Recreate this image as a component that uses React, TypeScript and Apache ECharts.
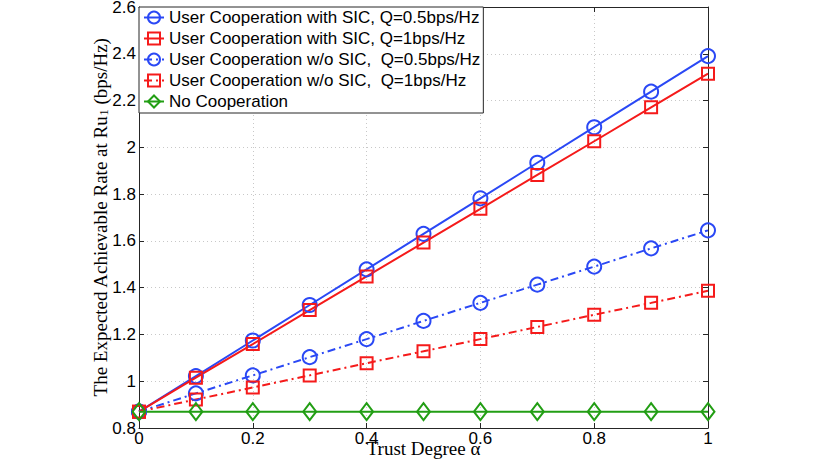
import React, { useEffect, useRef } from "react";
import * as echarts from "echarts";

const alphaValues = [0, 0.1, 0.2, 0.3, 0.4, 0.5, 0.6, 0.7, 0.8, 0.9, 1];
const sicQ05 = [0.87, 1.022, 1.174, 1.326, 1.478, 1.63, 1.782, 1.934, 2.086, 2.238, 2.39];
const sicQ1 = [0.87, 1.015, 1.159, 1.304, 1.448, 1.593, 1.737, 1.882, 2.026, 2.171, 2.315];
const noSicQ05 = [0.87, 0.948, 1.025, 1.103, 1.18, 1.258, 1.335, 1.413, 1.49, 1.568, 1.645];
const noSicQ1 = [0.87, 0.922, 0.973, 1.025, 1.077, 1.128, 1.18, 1.232, 1.284, 1.335, 1.387];
const noCoop = [0.87, 0.87, 0.87, 0.87, 0.87, 0.87, 0.87, 0.87, 0.87, 0.87, 0.87];

const seriesNames = [
  "User Cooperation with SIC, Q=0.5bps/Hz",
  "User Cooperation with SIC, Q=1bps/Hz",
  "User Cooperation w/o SIC,  Q=0.5bps/Hz",
  "User Cooperation w/o SIC,  Q=1bps/Hz",
  "No Cooperation",
];

const BLUE = "#2a48f5";
const RED = "#f51a1a";
const GREEN = "#229e14";
const AXIS = "#262626";
const SANS = "'Liberation Sans', Arial, Helvetica, sans-serif";
const SERIF = "'Liberation Serif', 'Times New Roman', serif";

const pairs = (ys: number[]) => alphaValues.map((x, i) => [x, ys[i]]);

export default function App() {
  const ref = useRef<HTMLDivElement>(null);
  useEffect(() => {
    document.body.style.margin = "0";
    if (!ref.current) return;
    const chart = echarts.init(ref.current, undefined, { renderer: "svg" });
    const mk = (
      name: string,
      ys: number[],
      color: string,
      symbol: string,
      symbolSize: number | number[],
      dashed: boolean
    ) => ({
      name,
      type: "line",
      data: pairs(ys),
      symbol,
      symbolSize,
      showSymbol: true,
      lineStyle: {
        color,
        width: 2,
        type: dashed ? [8, 4, 2, 4] : "solid",
      },
      itemStyle: {
        color: "rgba(255,255,255,0)",
        borderColor: color,
        borderWidth: 2,
        borderType: "solid",
      },
      emphasis: { disabled: true },
      z: 3,
    });
    chart.setOption({
      animation: false,
      grid: {
        left: 139,
        right: 122,
        top: 7,
        bottom: 34,
        containLabel: false,
        outerBoundsMode: "none",
      },
      legend: {
        orient: "vertical",
        left: 139,
        top: 7,
        backgroundColor: "#fff",
        borderColor: AXIS,
        borderWidth: 1,
        borderRadius: 0,
        padding: [2, 3, 3, 4],
        itemGap: 4,
        itemWidth: 20,
        itemHeight: 15,
        selectedMode: false,
        textStyle: {
          fontFamily: SANS,
          fontSize: 17,
          lineHeight: 17,
          color: "#000",
        },
        data: seriesNames,
      },
      xAxis: [
        {
          type: "value",
          min: 0,
          max: 1,
          interval: 0.2,
          position: "bottom",
          name: "Trust Degree α",
          nameLocation: "middle",
          nameGap: 11,
          nameMoveOverlap: false,
          nameTextStyle: { fontFamily: SERIF, fontSize: 19, color: "#000" },
          axisLine: { show: true, onZero: false, lineStyle: { color: AXIS, width: 1 } },
          axisTick: { show: true, inside: true, length: 5, lineStyle: { color: AXIS } },
          axisLabel: { fontFamily: SANS, fontSize: 17, color: "#000", margin: 2 },
          splitLine: { show: true, lineStyle: { color: "#c8c8c8", type: [1, 3], width: 1 } },
        },
        {
          type: "value",
          min: 0,
          max: 1,
          interval: 0.2,
          position: "top",
          axisLine: { show: true, onZero: false, lineStyle: { color: AXIS, width: 1 } },
          axisTick: { show: true, inside: true, length: 5, lineStyle: { color: AXIS } },
          axisLabel: { show: false },
          splitLine: { show: false },
        },
      ],
      yAxis: [
        {
          type: "value",
          min: 0.8,
          max: 2.6,
          interval: 0.2,
          position: "left",
          name: "The Expected Achievable Rate at Ru{sub|1} (bps/Hz)",
          nameLocation: "middle",
          nameGap: 29,
          nameMoveOverlap: false,
          nameTextStyle: {
            fontFamily: SERIF,
            fontSize: 19,
            color: "#000",
            rich: {
              sub: { fontFamily: SERIF, fontSize: 13, color: "#000", verticalAlign: "bottom", padding: [6, 0, 0, 0] },
            },
          },
          axisLine: { show: true, onZero: false, lineStyle: { color: AXIS, width: 1 } },
          axisTick: { show: true, inside: true, length: 5, lineStyle: { color: AXIS } },
          axisLabel: {
            fontFamily: SANS,
            fontSize: 17,
            color: "#000",
            margin: 3,
            formatter: (v: number) => String(Math.round(v * 10) / 10),
          },
          splitLine: { show: true, lineStyle: { color: "#c8c8c8", type: [1, 3], width: 1 } },
        },
        {
          type: "value",
          min: 0.8,
          max: 2.6,
          interval: 0.2,
          position: "right",
          axisLine: { show: true, onZero: false, lineStyle: { color: AXIS, width: 1 } },
          axisTick: { show: true, inside: true, length: 5, lineStyle: { color: AXIS } },
          axisLabel: { show: false },
          splitLine: { show: false },
        },
      ],
      series: [
        mk(seriesNames[0], sicQ05, BLUE, "circle", 14, false),
        mk(seriesNames[1], sicQ1, RED, "rect", 12, false),
        mk(seriesNames[2], noSicQ05, BLUE, "circle", 14, true),
        mk(seriesNames[3], noSicQ1, RED, "rect", 12, true),
        mk(seriesNames[4], noCoop, GREEN, "diamond", [13, 17], false),
      ],
    });
    return () => chart.dispose();
  }, []);
  return <div ref={ref} style={{ width: 830, height: 462 }} />;
}
